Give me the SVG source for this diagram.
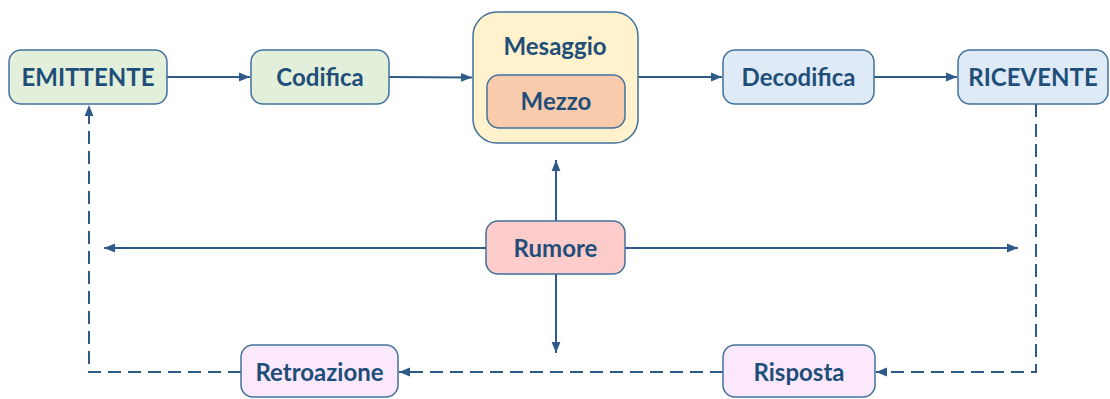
<svg xmlns="http://www.w3.org/2000/svg" width="1110" height="399" viewBox="0 0 1110 399">
<defs>
<marker id="ah" viewBox="0 0 10 10" refX="10" refY="5" markerWidth="11" markerHeight="11" markerUnits="userSpaceOnUse" orient="auto">
<path d="M0,1 L10,5 L0,9 Z" fill="#2E5A87"/>
</marker>
<style>
.box{stroke:#41719C;stroke-width:1.5}
.t{font-family:Lato,"Open Sans","Liberation Sans",sans-serif;font-weight:bold;font-size:24px;fill:#1F4E79;text-anchor:middle}
.c{fill:none;stroke:#2E5A87;stroke-width:2}
.d{stroke-dasharray:13 7}
</style>
</defs>
<rect width="1110" height="399" fill="#ffffff"/>
<g id="connectors">
<line class="c" x1="167" y1="77" x2="250" y2="77" marker-end="url(#ah)"/>
<line class="c" x1="389" y1="77" x2="472" y2="77.5" marker-end="url(#ah)"/>
<line class="c" x1="638" y1="77" x2="722" y2="77" marker-end="url(#ah)"/>
<line class="c" x1="874" y1="77" x2="957" y2="77" marker-end="url(#ah)"/>
<line class="c" x1="556" y1="221" x2="556" y2="160" marker-end="url(#ah)"/>
<line class="c" x1="556" y1="274" x2="556" y2="353" marker-end="url(#ah)"/>
<line class="c" x1="486" y1="248" x2="104" y2="248" marker-end="url(#ah)"/>
<line class="c" x1="625" y1="248" x2="1018" y2="248" marker-end="url(#ah)"/>
<polyline class="c d" points="1036,104 1036,372 876,372" marker-end="url(#ah)"/>
<line class="c d" x1="723" y1="372" x2="399" y2="372" marker-end="url(#ah)"/>
<polyline class="c d" points="241,372 89,372 89,105" marker-end="url(#ah)"/>
</g>
<g id="emittente">
<rect class="box" x="9" y="50" width="158" height="54" rx="12" fill="#E2EFDA"/>
<text class="t" x="88" y="85.5">EMITTENTE</text>
</g>
<g id="codifica">
<rect class="box" x="251" y="50" width="138" height="54" rx="12" fill="#E2EFDA"/>
<text class="t" x="320" y="85.5">Codifica</text>
</g>
<g id="messaggio">
<rect class="box" x="473" y="12" width="165" height="131" rx="24" fill="#FFF2CC"/>
<text class="t" x="555" y="54.5">Mesaggio</text>
</g>
<g id="mezzo">
<rect class="box" x="487" y="75" width="138" height="53" rx="12" fill="#F8CBAD"/>
<text class="t" x="556" y="110">Mezzo</text>
</g>
<g id="decodifica">
<rect class="box" x="723" y="50" width="151" height="54" rx="12" fill="#DEEBF7"/>
<text class="t" x="798.5" y="85.5">Decodifica</text>
</g>
<g id="ricevente">
<rect class="box" x="958" y="50" width="150" height="54" rx="12" fill="#DEEBF7"/>
<text class="t" x="1033" y="85.5">RICEVENTE</text>
</g>
<g id="rumore">
<rect class="box" x="486" y="221" width="139" height="53" rx="12" fill="#FFCCCC"/>
<text class="t" x="555.5" y="257">Rumore</text>
</g>
<g id="retroazione">
<rect class="box" x="241" y="345" width="157" height="52" rx="12" fill="#FCE8FC"/>
<text class="t" x="319.5" y="381">Retroazione</text>
</g>
<g id="risposta">
<rect class="box" x="723" y="345" width="152" height="52" rx="12" fill="#FCE8FC"/>
<text class="t" x="799" y="381">Risposta</text>
</g>
</svg>
